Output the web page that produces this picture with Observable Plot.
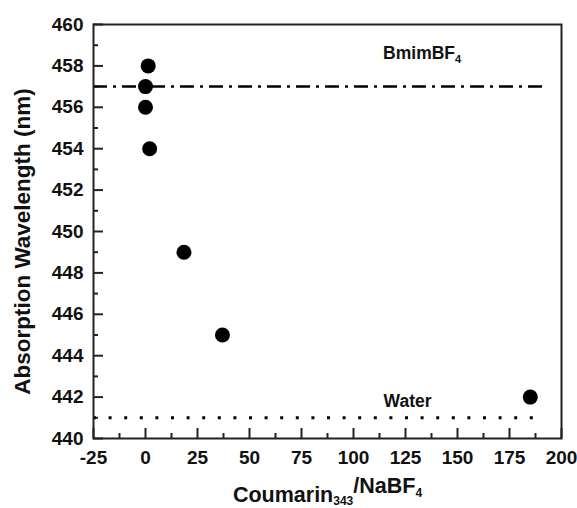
<!DOCTYPE html>
<html>
<head>
<meta charset="utf-8">
<script src="https://cdn.jsdelivr.net/npm/d3@7"></script>
<script src="https://cdn.jsdelivr.net/npm/@observablehq/plot@0.6"></script>
<style>
  body { margin: 0; background: #fff; }
  #chart svg { display: block; }
</style>
</head>
<body>
<div id="chart"></div>
<script>
// Data
const ratio = [1.3, 0, 0, 2, 18.5, 37, 185];          // Coumarin343/NaBF4
const wavelength = [458, 457, 456, 454, 449, 445, 442]; // nm
const bmimLevel = 457;
const waterLevel = 441;
const refLineEnd = 192;
const xMajor = [-25, 0, 25, 50, 75, 100, 125, 150, 175, 200];
const xMinor = [-12.5, 12.5, 37.5, 62.5, 87.5, 112.5, 137.5, 162.5, 187.5];
const yMajor = [440, 442, 444, 446, 448, 450, 452, 454, 456, 458, 460];
const yMinor = [441, 443, 445, 447, 449, 451, 453, 455, 457, 459];
const annotations = [
  {x: 133, y: 458.6, label: "BmimBF4"},
  {x: 126, y: 441.8, label: "Water"}
];

const points = ratio.map((r, i) => ({x: r, y: wavelength[i]}));

const W = 577, H = 508;
const M = {top: 24, right: 16, bottom: 70, left: 93};
const plotW = W - M.left - M.right;
const plotH = H - M.top - M.bottom;
const font = "Liberation Sans, Arial, sans-serif";

const chart = Plot.plot({
  width: W,
  height: H,
  marginTop: M.top,
  marginRight: M.right,
  marginBottom: M.bottom,
  marginLeft: M.left,
  style: {fontFamily: font, background: "#fff", color: "#111", fontSize: "19px", fontWeight: "bold"},
  x: {domain: [-25, 200]},
  y: {domain: [440, 460]},
  marks: [
    // tick labels
    Plot.axisX({ticks: xMajor, tickFormat: d => String(d), tickSize: 0, tickPadding: 12,
      fontSize: 19, fontWeight: "bold",
      label: "Coumarin343/NaBF4", labelAnchor: "center", labelArrow: "none", labelOffset: 63}),
    Plot.axisY({ticks: yMajor, tickFormat: d => String(d), tickSize: 0, tickPadding: 10,
      fontSize: 19, fontWeight: "bold",
      label: "Absorption Wavelength (nm)", labelAnchor: "center", labelArrow: "none", labelOffset: 79}),
    // inward ticks
    Plot.ruleX(xMajor, {x: d => d, insetTop: plotH - 10, stroke: "#222", strokeWidth: 2}),
    Plot.ruleX(xMinor, {x: d => d, insetTop: plotH - 5, stroke: "#222", strokeWidth: 2}),
    Plot.ruleY(yMajor, {y: d => d, insetRight: plotW - 10, stroke: "#222", strokeWidth: 2}),
    Plot.ruleY(yMinor, {y: d => d, insetRight: plotW - 5, stroke: "#222", strokeWidth: 2}),
    // reference lines
    Plot.ruleY([bmimLevel], {x1: -25, x2: refLineEnd, stroke: "#000", strokeWidth: 2.5,
      strokeDasharray: "14,6,3,6"}),
    Plot.ruleY([waterLevel], {x1: -25, x2: refLineEnd, stroke: "#000", strokeWidth: 3,
      strokeDasharray: "3,12.6"}),
    Plot.frame({stroke: "#222", strokeWidth: 2}),
    Plot.dot(points, {x: "x", y: "y", r: 7.5, fill: "#000", stroke: "none"}),
    Plot.text(annotations, {x: "x", y: "y", text: "label", fontSize: 17.5, fontWeight: "bold",
      fill: "#111"})
  ]
});

document.getElementById("chart").append(chart);

// subscripts and label sizing
const tickStrings = new Set([...xMajor, ...yMajor].map(String));
const svg = d3.select(chart);
svg.selectAll("text").each(function() {
  const t = d3.select(this);
  const s = t.text();
  if (tickStrings.has(s)) {
    t.attr("font-size", 19).style("font-size", "19px").style("font-weight", "bold");
  } else if (s === "Coumarin343/NaBF4") {
    t.text("");
    t.style("font-size", "21.5px").style("font-weight", "bold");
    t.append("tspan").text("Coumarin");
    t.append("tspan").attr("dy", "0.3em").style("font-size", "12px").text("343");
    t.append("tspan").attr("dy", "-0.55em").text("/NaBF");
    t.append("tspan").attr("dy", "0.3em").style("font-size", "12px").text("4");
  } else if (s === "Absorption Wavelength (nm)") {
    t.style("font-size", "22.5px").style("font-weight", "bold").attr("dx", -10);
  } else if (s === "BmimBF4") {
    t.style("font-size", "17.5px");
    t.text("");
    t.append("tspan").text("BmimBF");
    t.append("tspan").attr("dy", "0.35em").style("font-size", "11px").text("4");
  } else if (s === "Water") {
    t.style("font-size", "17.5px");
  }
});
</script>
</body>
</html>
